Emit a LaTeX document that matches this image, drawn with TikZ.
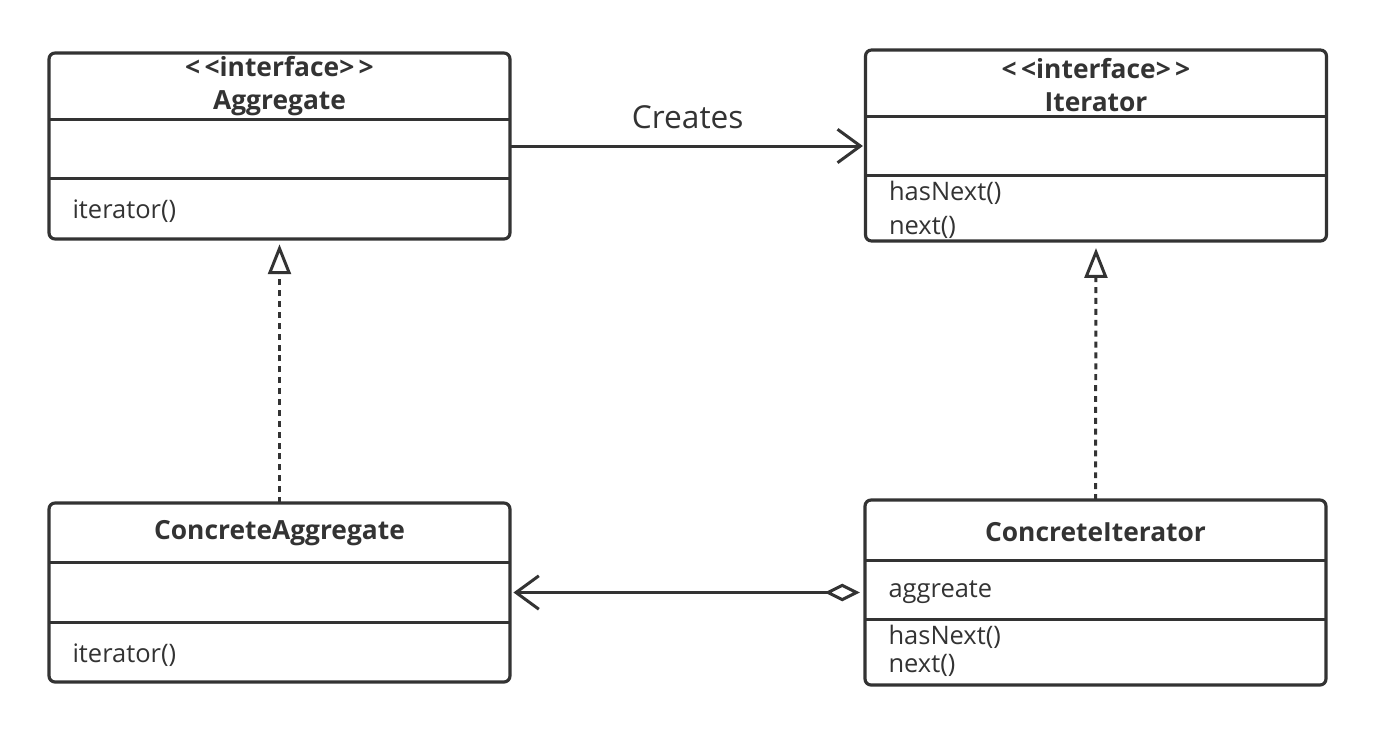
\documentclass[tikz,border=0pt]{standalone}
\usepackage{fontspec}
\setmainfont{Open Sans}
\usetikzlibrary{arrows.meta,calc}
\definecolor{umlgray}{HTML}{333333}

\begin{document}
\begin{tikzpicture}[x=0.02cm, y=-0.02cm, line width=1.7pt, draw=umlgray, text=umlgray,
          every node/.style={inner sep=0pt},
          umlclass/.style={draw=umlgray, line width=1.8pt, rounded corners=3.4pt, outer sep=0pt, minimum width=9.22cm},
          classname/.style={font=\fontsize{15}{18.8}\selectfont\bfseries, align=center},
          member/.style={font=\fontsize{14.5}{18}\selectfont, anchor=west},
          realize/.style={dash pattern=on 3.4pt off 2.8pt, -{Triangle[open, length=17pt, width=13pt]}},
          creates/.style={-{Straight Barb[length=13pt, width=19pt]}},
          aggregation/.style={{Diamond[open, length=20pt, width=10pt]}-{Straight Barb[length=13pt, width=19pt]}}]
            \useasboundingbox (0,0) rectangle (1376,735);
            % Classes
            \node[umlclass, minimum height=3.72cm] (aggregate) at (279.5,146) {};
            \node[umlclass, minimum height=3.82cm] (iterator) at (1096,145.5) {};
            \node[umlclass, minimum height=3.58cm] (concAgg) at (279.5,592.5) {};
            \node[umlclass, minimum height=3.7cm] (concIter) at (1095.5,592.5) {};
            \foreach \cls/\a/\b in {aggregate/66/125, iterator/66/125, concAgg/59/119, concIter/60/119} {
                \draw ($(\cls.north west)+(0,\a)$) -- ($(\cls.north east)+(0,\a)$);
                \draw ($(\cls.north west)+(0,\b)$) -- ($(\cls.north east)+(0,\b)$);
            }
            % Names
            \node[classname] (aggregateName) at ($(aggregate.north)+(0,33)$) {<\,<interface>\,>\\Aggregate};
            \node[classname] (iteratorName) at ($(iterator.north)+(0,35)$) {<\,<interface>\,>\\Iterator};
            \node[classname] (concAggName) at ($(concAgg.north)+(0,30)$) {ConcreteAggregate};
            \node[classname] (concIterName) at ($(concIter.north)+(0,32)$) {ConcreteIterator};
            % Members
            \node[member] (aggregateOp) at ($(aggregate.south west)+(22,-28)$) {iterator()};
            \node[member] (iteratorOpA) at ($(iterator.south west)+(22,-48)$) {hasNext()};
            \node[member] (iteratorOpB) at ($(iterator.south west)+(22,-14)$) {next()};
            \node[member] (concAggOp) at ($(concAgg.south west)+(22,-27)$) {iterator()};
            \node[member] (concIterAttr) at ($(concIter.north west)+(22,92)$) {aggreate};
            \node[member] (concIterOpA) at ($(concIter.south west)+(22,-48)$) {hasNext()};
            \node[member] (concIterOpB) at ($(concIter.south west)+(22,-20)$) {next()};
            % Relations
            \draw[creates, shorten >=1.5pt] (aggregate.east) -- (aggregate.east -| iterator.west)
                node[midway, above=9pt, font=\fontsize{18}{20}\selectfont] (createsLabel) {Creates};
            \draw[realize, shorten >=3pt] (concAgg.north) -- (aggregate.south);
            \draw[realize, shorten >=4pt] (concIter.north) -- (iterator.south);
            \draw[aggregation, shorten <=3pt, shorten >=2pt] (concIter.west) -- (concAgg.east);
        \end{tikzpicture}
\end{document}
